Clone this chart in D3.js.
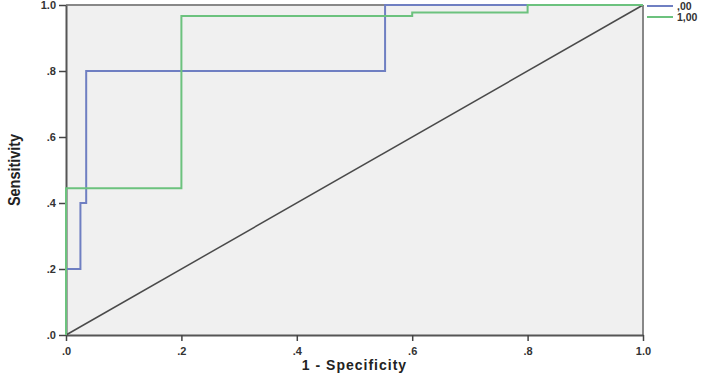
<!DOCTYPE html>
<html><head><meta charset="utf-8">
<script src="https://cdn.jsdelivr.net/npm/d3@7"></script>
<style>body{margin:0;background:#fff}svg{display:block}</style>
</head><body>
<script>
const ticks = [0, 0.2, 0.4, 0.6, 0.8, 1.0];
const tickLabels = [".0", ".2", ".4", ".6", ".8", "1.0"];
const seriesNames = [",00", "1,00"];
const fprA = [0, 0, 0.025, 0.025, 0.035, 0.035, 0.553, 0.553, 1.0];
const tprA = [0, 0.2, 0.2, 0.4, 0.4, 0.8, 0.8, 1.0, 1.0];
const fprB = [0, 0, 0.2, 0.2, 0.6, 0.6, 0.8, 0.8, 1.0];
const tprB = [0, 0.445, 0.445, 0.967, 0.967, 0.977, 0.977, 1.0, 1.0];
const colors = ["#6f7fc2", "#6cc27e"];

const W = 709, H = 376;
const svg = d3.select("body").append("svg").attr("width", W).attr("height", H);
const x = d3.scaleLinear().domain([0, 1]).range([66, 643]);
const y = d3.scaleLinear().domain([0, 1]).range([335, 5]);

svg.append("rect").attr("x", x(0)).attr("y", y(1)).attr("width", x(1) - x(0)).attr("height", y(0) - y(1)).attr("fill", "#f0f0f0");
svg.append("line").attr("x1", x(0)).attr("x2", x(1)).attr("y1", y(1)).attr("y2", y(1)).attr("stroke", "#888").attr("stroke-width", 2);
svg.append("line").attr("x1", x(1)).attr("x2", x(1)).attr("y1", y(1)).attr("y2", y(0)).attr("stroke", "#888").attr("stroke-width", 2);

const xAxis = d3.axisBottom(x).tickValues(ticks).tickFormat((d, i) => tickLabels[i]).tickSize(6).tickSizeOuter(0);
const yAxis = d3.axisLeft(y).tickValues(ticks).tickFormat((d, i) => tickLabels[i]).tickSize(7).tickSizeOuter(0);
const gx = svg.append("g").attr("transform", `translate(0,${y(0)})`).call(xAxis);
const gy = svg.append("g").attr("transform", `translate(${x(0)},0)`).call(yAxis);
[gx, gy].forEach(g => {
  g.select(".domain").attr("stroke", "#555").attr("stroke-width", 2);
  g.selectAll(".tick line").attr("stroke", "#444").attr("stroke-width", 1.5);
  g.selectAll(".tick text").attr("fill", "#333").attr("font-family", "Liberation Sans, Arial, sans-serif").attr("font-size", 11).attr("font-weight", "bold");
});
gx.selectAll(".tick text").attr("dy", "1em");

svg.append("line").attr("x1", x(0)).attr("y1", y(0)).attr("x2", x(1)).attr("y2", y(1)).attr("stroke", "#4a4a4a").attr("stroke-width", 1.5);

const line = d3.line().x(d => x(d[0])).y(d => y(d[1]));
svg.append("path").datum(d3.zip(fprA, tprA)).attr("d", line).attr("fill", "none").attr("stroke", colors[0]).attr("stroke-width", 2);
svg.append("path").datum(d3.zip(fprB, tprB)).attr("d", line).attr("fill", "none").attr("stroke", colors[1]).attr("stroke-width", 2);

seriesNames.forEach((n, i) => {
  const ly = 6 + i * 11;
  svg.append("line").attr("x1", 647).attr("x2", 673).attr("y1", ly).attr("y2", ly).attr("stroke", colors[i]).attr("stroke-width", 2);
  svg.append("text").attr("x", 677).attr("y", ly + 4).text(n).attr("font-family", "Liberation Sans, Arial, sans-serif").attr("font-size", 10.5).attr("font-weight", "bold").attr("fill", "#333");
});

svg.append("text").attr("x", x(0.5)).attr("y", 370).attr("text-anchor", "middle").text("1 - Specificity")
  .attr("font-family", "Liberation Sans, Arial, sans-serif").attr("font-size", 14).attr("font-weight", "bold").attr("fill", "#222").attr("letter-spacing", "1");
svg.append("text").attr("transform", `translate(20,${y(0.5)}) rotate(-90) scale(0.85,1)`).attr("text-anchor", "middle").text("Sensitivity")
  .attr("font-family", "Liberation Sans Narrow, Liberation Sans, Arial, sans-serif").attr("font-size", 17).attr("font-weight", "bold").attr("fill", "#222");
</script>
</body></html>
